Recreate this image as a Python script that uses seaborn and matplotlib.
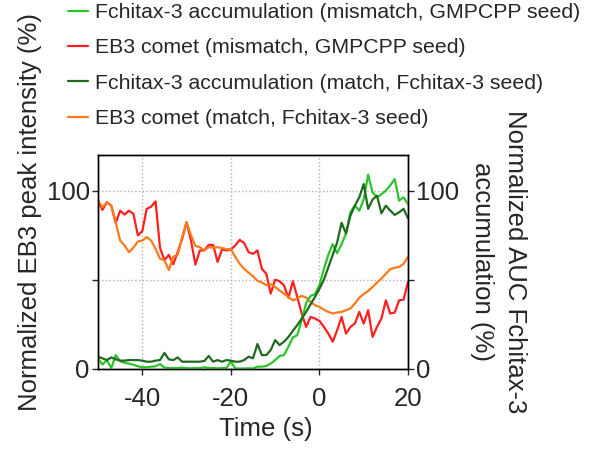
import numpy as np
import pandas as pd
import seaborn as sns
import matplotlib
matplotlib.use('Agg')
import matplotlib.pyplot as plt

sns.set_style('ticks')
plt.rcParams['font.family'] = ['Liberation Sans', 'DejaVu Sans']

# time axis (s), one frame per second
time = list(range(-50, 21))

# EB3 comet, mismatch (GMPCPP seed)
eb3_mismatch = [94.4, 89.2, 93.5, 91.6, 81.8, 88.8, 86.6, 88.8, 87.0, 74.9,
                77.3, 89.8, 91.0, 94.0, 68.0, 61.0, 64.0, 58.7, 65.5, 73.0,
                82.3, 72.0, 58.5, 66.5, 66.5, 69.6, 69.6, 60.0, 67.0, 66.5,
                67.0, 69.3, 72.4, 70.6, 65.5, 64.6, 66.5, 56.2, 53.4, 42.3,
                50.1, 49.2, 46.9, 39.9, 49.2, 40.4, 31.1, 23.6, 29.2, 28.3,
                27.0, 23.6, 19.9, 15.3, 21.8, 29.2, 19.9, 23.6, 25.5, 32.0,
                25.5, 33.0, 18.0, 23.6, 28.3, 38.5, 31.1, 31.7, 38.5, 38.9,
                48.8]

# EB3 comet, match (Fchitax-3 seed)
eb3_match = [94.4, 90.7, 93.5, 91.6, 82.3, 72.0, 69.3, 65.5, 68.0, 71.5,
             72.0, 74.0, 72.0, 67.4, 61.8, 61.0, 55.5, 63.0, 64.0, 74.0,
             82.3, 75.0, 69.0, 68.3, 66.5, 68.3, 68.0, 68.3, 67.8, 67.2,
             67.2, 62.8, 59.0, 56.2, 54.0, 52.0, 49.5, 48.5, 47.0, 47.5,
             46.0, 44.0, 42.3, 40.4, 38.5, 39.5, 41.0, 40.0, 37.6, 35.8,
             34.8, 33.3, 32.0, 31.1, 31.7, 32.0, 33.0, 33.9, 36.7, 40.0,
             42.0, 43.8, 46.0, 48.5, 50.7, 53.4, 56.0, 56.8, 57.2, 59.0,
             62.8]

# Fchitax-3 accumulation, mismatch (GMPCPP seed)
fch_mismatch = [6.0, 2.5, 5.0, 0.5, 7.8, 4.3, 3.5, 3.0, 2.4, 1.5,
                1.0, 1.0, 1.3, 1.5, 2.8, 0.8, 0.6, 0.5, 0.5, 0.8,
                0.5, 0.4, 0.5, 0.5, 1.0, 0.6, 0.5, 0.4, 0.5, 0.6,
                4.3, 0.3, 0.3, 0.3, 0.4, 0.3, 1.3, 1.3, 1.7, 3.0,
                5.0, 7.3, 7.8, 12.5, 17.7, 19.0, 27.4, 37.0, 41.0, 42.0,
                47.0, 56.0, 64.0, 70.0, 65.0, 70.0, 76.0, 88.0, 91.6, 88.8,
                95.0, 109.0, 99.0, 96.3, 98.0, 100.0, 103.0, 106.5, 94.4, 96.3,
                92.5]

# Fchitax-3 accumulation, match (Fchitax-3 seed)
fch_match = [6.9, 6.0, 5.0, 6.5, 5.4, 4.7, 4.7, 5.0, 5.0, 5.0,
             4.7, 4.1, 4.1, 4.7, 5.0, 9.0, 5.4, 5.0, 6.5, 4.1,
             4.1, 4.1, 4.1, 4.1, 4.5, 7.3, 4.1, 5.0, 4.1, 5.0,
             4.7, 4.1, 4.1, 5.0, 6.9, 6.0, 14.0, 7.8, 7.8, 10.6,
             16.2, 13.4, 15.3, 18.0, 21.4, 24.6, 28.3, 32.0, 36.3, 40.4,
             45.0, 50.0, 57.0, 64.0, 71.0, 82.0, 76.0, 86.0, 91.6, 96.3,
             103.7, 89.8, 95.0, 97.2, 87.3, 91.6, 88.8, 86.4, 87.9, 89.8,
             84.5]

labels = ['Fchitax-3 accumulation (mismatch, GMPCPP seed)',
          'EB3 comet (mismatch, GMPCPP seed)',
          'Fchitax-3 accumulation (match, Fchitax-3 seed)',
          'EB3 comet (match, Fchitax-3 seed)']
colors = ['#2cc42c', '#ff1f1f', '#1e6a1e', '#ff7a1a']

fig = plt.figure(figsize=(5.96, 4.53), dpi=100)
ax = fig.add_axes([98/596, 1-369/453, 310/596, 214/453])
ax2 = ax.twinx()

sns.lineplot(x=time, y=fch_mismatch, ax=ax2, color=colors[0], lw=1.6, label=labels[0], legend=False)
sns.lineplot(x=time, y=eb3_mismatch, ax=ax, color=colors[1], lw=1.6, label=labels[1], legend=False)
sns.lineplot(x=time, y=fch_match, ax=ax2, color=colors[2], lw=1.6, label=labels[2], legend=False)
sns.lineplot(x=time, y=eb3_match, ax=ax, color=colors[3], lw=1.6, label=labels[3], legend=False)

for a in (ax, ax2):
    a.set_xlim(-50, 20)
    a.set_ylim(0, 120)
    a.set_yticks([0, 50, 100])
    a.set_yticklabels(['0', '', '100'])
    for s in a.spines.values():
        s.set_color('black')
        s.set_linewidth(1.0)
    a.tick_params(direction='out', length=4, width=1, pad=2, labelsize=18.5)

ax.set_xticks([-40, -20, 0, 20])
ax.set_xticklabels(['-40', '-20', '0', '20'])
ax.tick_params(axis='x', pad=9)
ax.grid(True, ls=':', color='#b0b0b0', lw=1)
ax.set_axisbelow(True)

ax.set_xlabel('Time (s)', fontsize=18.5)
ax.xaxis.set_label_coords(0.54, -0.225)
ax.set_ylabel('Normalized EB3 peak intensity (%)', fontsize=18.5)
ax.yaxis.set_label_coords(-0.18, 0.735)
ax2.set_ylabel('Normalized AUC Fchitax-3\naccumulation (%)', fontsize=18.5,
               rotation=270, va='bottom', linespacing=1.45)
ax2.yaxis.set_label_coords(1.2, 0.5)

h1, _ = ax.get_legend_handles_labels()
h2, _ = ax2.get_legend_handles_labels()
handles = [h2[0], h1[0], h2[1], h1[1]]
fig.legend(handles, labels, loc='upper left', bbox_to_anchor=(68/596, 1-3/453),
           frameon=False, fontsize=15.3, handlelength=0.95, handletextpad=0.3,
           labelspacing=0.77, borderpad=0, borderaxespad=0)

fig.savefig('out.png', dpi=100)
